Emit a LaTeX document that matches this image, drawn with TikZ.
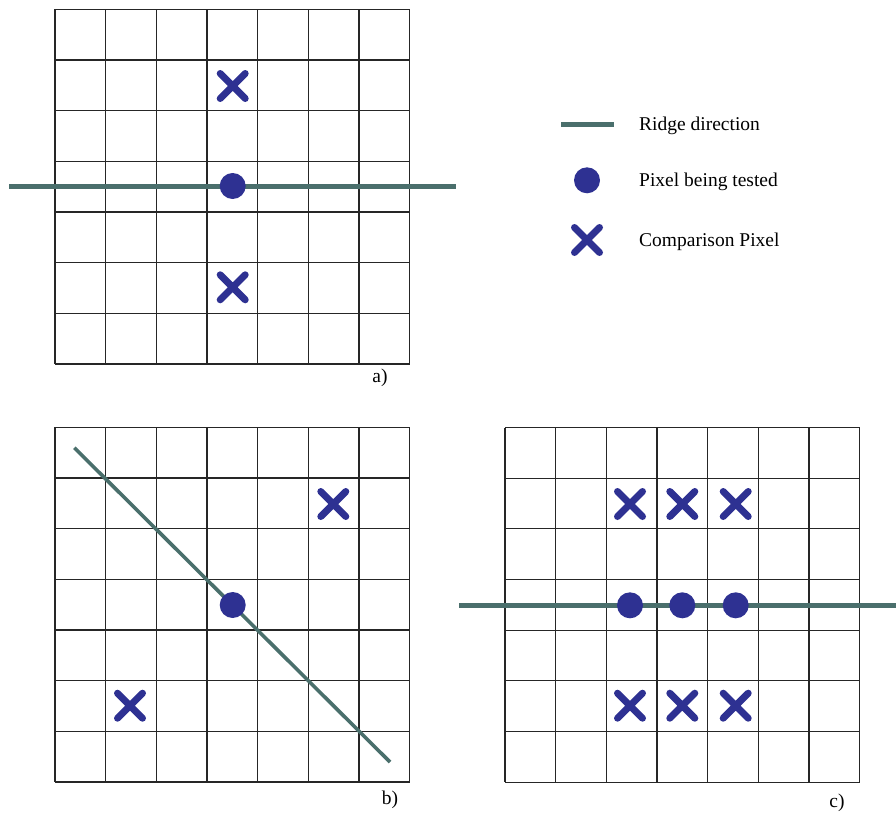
\documentclass[tikz,border=0pt]{standalone}
\usepackage{fontspec}
\setmainfont{Liberation Serif}
\definecolor{gridcol}{HTML}{262626}
\definecolor{ridgecol}{HTML}{4A6F6C}
\definecolor{dotblue}{HTML}{2E3192}
\tikzset{
  cellline/.style={draw=gridcol, line width=1.1pt},
  ridge/.style={draw=ridgecol, line width=5pt},
  ridgethin/.style={draw=ridgecol, line width=3.6pt},
  pix/.style={circle, fill=dotblue, inner sep=0pt, minimum size=26pt},
  cmpx/.pic={\draw[dotblue, line width=7pt, line cap=round] (-12.5,-12.5) -- (12.5,12.5) (-12.5,12.5) -- (12.5,-12.5);},
  lbl/.style={font=\fontsize{19.5}{23}\selectfont, inner sep=0pt},
}
\newcommand\pixgrid[2]{%
  \foreach \i in {0,...,7}{
    \draw[cellline] ({#1+\i*50.67},#2) -- ({#1+\i*50.67},{#2+354.7});
    \draw[cellline] (#1,{#2+\i*50.67}) -- ({#1+354.7},{#2+\i*50.67});
  }}
\begin{document}
\begin{tikzpicture}[x=1pt,y=-1pt]
\useasboundingbox (0,0) rectangle (896,816);
% ---------- a) ----------
\pixgrid{55}{9.3}
\coordinate (ra1) at (9,186);
\coordinate (ra2) at (456,186);
\draw[ridge] (ra1) -- (ra2);
\node[pix] (pa) at (232.7,186) {};
\pic at (232.7,86) {cmpx};
\pic at (232.7,287.3) {cmpx};
\node[lbl] (la) at (380,378) {a)};
% ---------- legend ----------
\coordinate (lg1) at (561,124.3);
\coordinate (lg2) at (614,124.3);
\draw[ridge] (lg1) -- (lg2);
\node[lbl, anchor=base west] (t1) at (639,130.5) {Ridge direction};
\node[pix] (lp) at (587,180.3) {};
\node[lbl, anchor=base west] (t2) at (639,186.3) {Pixel being tested};
\pic at (587,240) {cmpx};
\node[lbl, anchor=base west] (t3) at (639,246) {Comparison Pixel};
% ---------- b) ----------
\pixgrid{55}{427.3}
\coordinate (rb1) at (74.3,447.7);
\coordinate (rb2) at (390,762);
\draw[ridgethin] (rb1) -- (rb2);
\node[pix] (pb) at (232.7,605) {};
\pic at (333.3,504) {cmpx};
\pic at (130,705.7) {cmpx};
\node[lbl] (lb) at (390,800) {b)};
% ---------- c) ----------
\pixgrid{505}{427.5}
\coordinate (rc1) at (459,605.3);
\coordinate (rc2) at (896,605.3);
\draw[ridge] (rc1) -- (rc2);
\foreach \x/\n in {630/1,682.3/2,735.7/3}{
  \node[pix] (pc\n) at (\x,605.3) {};
  \pic at (\x,504) {cmpx};
  \pic at (\x,705.7) {cmpx};
}
\node[lbl] (lc) at (837,803) {c)};
\end{tikzpicture}
\end{document}
